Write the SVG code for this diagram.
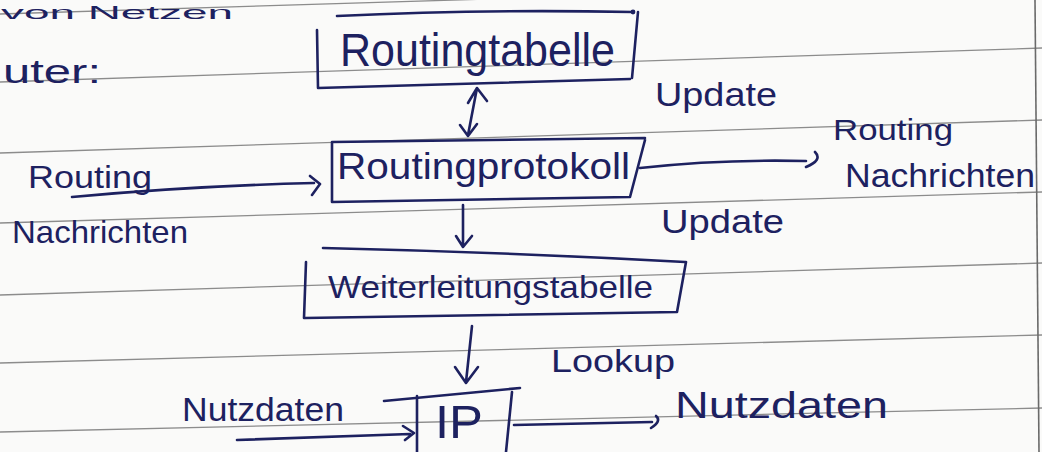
<svg xmlns="http://www.w3.org/2000/svg" width="1042" height="452" viewBox="0 0 1042 452">
  <style>
    .rule { stroke: #8c8c8c; stroke-width: 1.3; fill: none; }
    .margin { stroke: #6a6a6a; stroke-width: 1.6; fill: none; }
    .ink { stroke: #1d2160; stroke-width: 2.6; fill: none; stroke-linecap: round; stroke-linejoin: round; }
    .hand { font-family: "Liberation Sans", "DejaVu Sans", sans-serif; fill: #1d2160; }
  </style>

  <!-- paper -->
  <rect width="1042" height="452" fill="#fafaf9"/>
  <g id="ruling">
    <line class="rule" x1="0" y1="14" x2="1042" y2="-18"/>
    <line class="rule" x1="0" y1="82" x2="1042" y2="48"/>
    <line class="rule" x1="0" y1="153" x2="1042" y2="120"/>
    <line class="rule" x1="0" y1="223" x2="1042" y2="192"/>
    <line class="rule" x1="0" y1="295" x2="1042" y2="263"/>
    <line class="rule" x1="0" y1="363" x2="1042" y2="335"/>
    <line class="rule" x1="0" y1="432" x2="1042" y2="408"/>
    <line class="margin" x1="1035" y1="0" x2="1039" y2="452"/>
  </g>

  <!-- heading lines at the top edge -->
  <g id="heading">
    <text class="hand" x="1" y="19" font-size="19" textLength="232" lengthAdjust="spacingAndGlyphs">von Netzen</text>
    <text class="hand" x="3" y="83" font-size="34" textLength="98" lengthAdjust="spacingAndGlyphs">uter:</text>
  </g>

  <!-- boxes -->
  <g id="routing-table">
    <path class="ink" d="M337 16 Q480 9 633 12 M638 12 L632 78 M630 79 L318 88 M317 30 L318 88"/>
    <circle cx="633" cy="12" r="2.4" fill="#1d2160"/>
    <text class="hand" x="340" y="66" font-size="46" textLength="275" lengthAdjust="spacingAndGlyphs">Routingtabelle</text>
  </g>

  <g id="routing-protocol">
    <path class="ink" d="M332 142 L645 138 M645 140 L630 197 M630 197 L332 202 M332 142 L332 202"/>
    <text class="hand" x="337" y="179" font-size="36" textLength="293" lengthAdjust="spacingAndGlyphs">Routingprotokoll</text>
  </g>

  <g id="forwarding-table">
    <path class="ink" d="M323 248 Q500 252 685 262 M686 262 L677 312 M677 312 L305 318 M306 262 L304 318"/>
    <text class="hand" x="328" y="298" font-size="32" textLength="325" lengthAdjust="spacingAndGlyphs">Weiterleitungstabelle</text>
  </g>

  <g id="ip">
    <path class="ink" d="M384 401 L520 388 M417 396 L417 452 M512 392 L506 452"/>
    <text class="hand" x="435" y="438" font-size="46" textLength="48" lengthAdjust="spacingAndGlyphs">IP</text>
  </g>

  <!-- connectors -->
  <g id="connectors">
    <!-- routing table <-> routing protocol -->
    <path class="ink" d="M477 88 L468 135 M468 103 L477 88 L487 101 M460 125 L468 136 L477 124"/>
    <!-- incoming routing messages -->
    <path class="ink" d="M72 197 Q190 186 314 183 M310 176 L320 184 L312 195"/>
    <!-- outgoing routing messages -->
    <path class="ink" d="M640 168 Q720 159 806 161 M815 152 Q823 160 806 167"/>
    <!-- routing protocol -> forwarding table -->
    <path class="ink" d="M463 205 L463 246 M456 236 L463 247 L472 236"/>
    <!-- forwarding table -> IP (lookup) -->
    <path class="ink" d="M472 326 L466 382 M455 367 L466 383 L478 367"/>
    <!-- incoming user data -->
    <path class="ink" d="M237 440 L410 434 M403 426 L414 433 L405 440"/>
    <!-- outgoing user data -->
    <path class="ink" d="M514 425 L652 422 M656 416 Q662 421 651 428"/>
  </g>

  <!-- edge labels -->
  <g id="labels">
    <text class="hand" x="655" y="106" font-size="34" textLength="122" lengthAdjust="spacingAndGlyphs">Update</text>
    <text class="hand" x="661" y="233" font-size="34" textLength="123" lengthAdjust="spacingAndGlyphs">Update</text>
    <text class="hand" x="28" y="188" font-size="32" textLength="124" lengthAdjust="spacingAndGlyphs">Routing</text>
    <text class="hand" x="12" y="243" font-size="32" textLength="176" lengthAdjust="spacingAndGlyphs">Nachrichten</text>
    <text class="hand" x="833" y="140" font-size="29" textLength="120" lengthAdjust="spacingAndGlyphs">Routing</text>
    <text class="hand" x="845" y="187" font-size="33" textLength="190" lengthAdjust="spacingAndGlyphs">Nachrichten</text>
    <text class="hand" x="551" y="372" font-size="32" textLength="124" lengthAdjust="spacingAndGlyphs">Lookup</text>
    <text class="hand" x="182" y="421" font-size="34" textLength="162" lengthAdjust="spacingAndGlyphs">Nutzdaten</text>
    <text class="hand" x="675" y="418" font-size="36" textLength="213" lengthAdjust="spacingAndGlyphs">Nutzdaten</text>
  </g>
</svg>
